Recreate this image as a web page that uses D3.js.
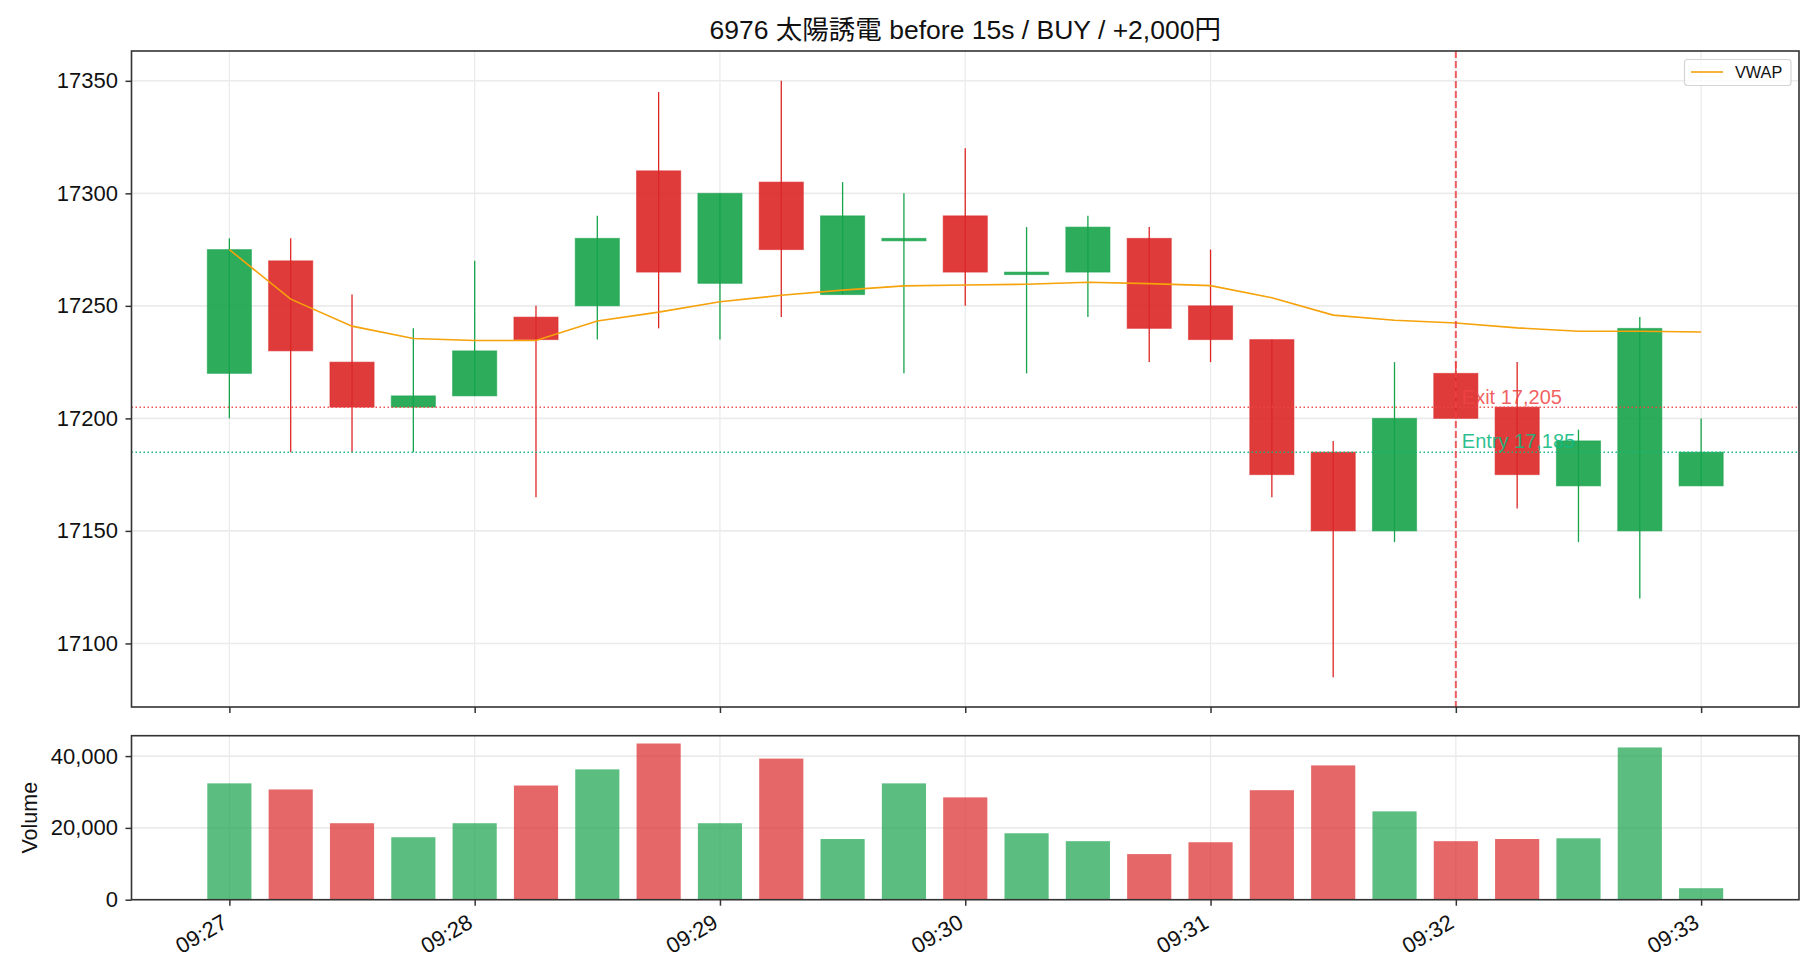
<!DOCTYPE html>
<html>
<head>
<meta charset="utf-8">
<script src="https://cdn.jsdelivr.net/npm/d3@7"></script>
<style>
  body { margin: 0; background: #fff; }
  svg text { font-family: 'Liberation Sans', 'Noto Sans CJK JP', sans-serif; fill: #111; }
</style>
</head>
<body>
<svg id="chart" width="1820" height="980"></svg>
<script>
// 15s candles, 6976 太陽誘電
const times = ['09:27:00','09:27:15','09:27:30','09:27:45','09:28:00','09:28:15','09:28:30','09:28:45',
  '09:29:00','09:29:15','09:29:30','09:29:45','09:30:00','09:30:15','09:30:30','09:30:45',
  '09:31:00','09:31:15','09:31:30','09:31:45','09:32:00','09:32:15','09:32:30','09:32:45','09:33:00'];
const opens  = [17220,17270,17225,17205,17210,17245,17250,17310,17260,17305,17255,17280,17290,17265,17265,17280,17250,17235,17185,17150,17220,17205,17170,17150,17170];
const highs  = [17280,17280,17255,17240,17270,17250,17290,17345,17300,17350,17305,17300,17320,17285,17290,17285,17275,17235,17190,17225,17225,17225,17195,17245,17200];
const lows   = [17200,17185,17185,17185,17210,17165,17235,17240,17235,17245,17255,17220,17250,17220,17245,17225,17225,17165,17085,17145,17200,17160,17145,17120,17170];
const closes = [17275,17230,17205,17210,17230,17235,17280,17265,17300,17275,17290,17280,17265,17265,17285,17240,17235,17175,17150,17200,17200,17175,17190,17240,17185];
const volumes = [32400,30700,21300,17400,21300,31800,36300,43500,21300,39300,16900,32400,28500,18500,16300,12700,16000,30500,37400,24600,16300,16900,17100,42400,3200];
const vwap = [17275,17253,17241,17235.5,17234.6,17234.6,17243.3,17247.2,17251.8,17254.7,17257,17258.9,17259.3,17259.6,17260.5,17259.9,17259,17253.6,17245.9,17243.6,17242.4,17240.2,17238.7,17238.7,17238.4];

const priceTicks = [17100,17150,17200,17250,17300,17350];
const volumeTicks = [0,20000,40000];
const timeTicks = ['09:27:00','09:28:00','09:29:00','09:30:00','09:31:00','09:32:00','09:33:00'];

const entryPrice = 17185;
const exitPrice = 17205;
const exitTime = '09:32:00';
const titleText = '6976 太陽誘電 before 15s / BUY / +2,000円';

const green = '#16a34a';
const red = '#dc2626';

const parseTime = d3.timeParse('%H:%M:%S');
const fmtTime = d3.timeFormat('%H:%M');
const dates = times.map(parseTime);

const svg = d3.select('#chart');

const main = {left: 131.5, right: 1799, top: 51, bottom: 707};
const vol = {top: 735.7, bottom: 899.7};

// x domain: bar width + 5% margin like matplotlib
const barSec = 10.8;
const t0 = dates[0].getTime() - barSec/2*1000;
const t1 = dates[dates.length-1].getTime() + barSec/2*1000;
const xPad = (t1 - t0)*0.05;
const x = d3.scaleTime()
  .domain([new Date(t0 - xPad), new Date(t1 + xPad)])
  .range([main.left, main.right]);
const barW = x(new Date(dates[0].getTime() + barSec*1000)) - x(dates[0]);

const pMin = d3.min(lows), pMax = d3.max(highs);
const pPad = (pMax - pMin)*0.05;
const y = d3.scaleLinear()
  .domain([pMin - pPad, pMax + pPad])
  .range([main.bottom, main.top]);

const yVol = d3.scaleLinear()
  .domain([0, d3.max(volumes)*1.05])
  .range([vol.bottom, vol.top]);

const gridColor = '#ebebeb';
const spineColor = '#333';

function drawGrid(g, yScale, ticks, top, bottom){
  g.selectAll('.gx').data(timeTicks.map(parseTime)).enter().append('line')
    .attr('x1', d => x(d)).attr('x2', d => x(d))
    .attr('y1', top).attr('y2', bottom)
    .attr('stroke', gridColor).attr('stroke-width', 1.3);
  g.selectAll('.gy').data(ticks).enter().append('line')
    .attr('x1', main.left).attr('x2', main.right)
    .attr('y1', d => yScale(d)).attr('y2', d => yScale(d))
    .attr('stroke', gridColor).attr('stroke-width', 1.6);
}

// ---- price panel
const gMain = svg.append('g');
drawGrid(gMain, y, priceTicks, main.top, main.bottom);

gMain.selectAll('.body').data(dates).enter().append('rect')
  .attr('x', d => x(d) - barW/2)
  .attr('y', (d,i) => y(Math.max(opens[i], closes[i])))
  .attr('width', barW)
  .attr('height', (d,i) => Math.max(2.5, y(Math.min(opens[i], closes[i])) - y(Math.max(opens[i], closes[i]))))
  .attr('fill', (d,i) => closes[i] >= opens[i] ? green : red)
  .attr('fill-opacity', 0.9)
  .attr('stroke', (d,i) => closes[i] >= opens[i] ? green : red)
  .attr('stroke-opacity', 0.55)
  .attr('stroke-width', 1);

gMain.selectAll('.wick').data(dates).enter().append('line')
  .attr('x1', d => x(d)).attr('x2', d => x(d))
  .attr('y1', (d,i) => y(highs[i])).attr('y2', (d,i) => y(lows[i]))
  .attr('stroke', (d,i) => closes[i] >= opens[i] ? green : red)
  .attr('stroke-width', 1.3);

const vwapLine = d3.line().x(d => x(d)).y((d,i) => y(vwap[i]));
gMain.append('path')
  .attr('d', vwapLine(dates))
  .attr('fill', 'none')
  .attr('stroke', '#f5a20b')
  .attr('stroke-width', 1.6);

// entry / exit
gMain.append('line')
  .attr('x1', main.left).attr('x2', main.right)
  .attr('y1', y(exitPrice)).attr('y2', y(exitPrice))
  .attr('stroke', '#ef4444').attr('stroke-opacity', 0.9)
  .attr('stroke-width', 1.5).attr('stroke-dasharray', '1.5,2.5');
gMain.append('line')
  .attr('x1', main.left).attr('x2', main.right)
  .attr('y1', y(entryPrice)).attr('y2', y(entryPrice))
  .attr('stroke', '#10b981').attr('stroke-opacity', 0.95)
  .attr('stroke-width', 1.5).attr('stroke-dasharray', '1.5,2.5');
gMain.append('line')
  .attr('x1', x(parseTime(exitTime))).attr('x2', x(parseTime(exitTime)))
  .attr('y1', main.top).attr('y2', main.bottom)
  .attr('stroke', '#ef4444').attr('stroke-opacity', 0.85)
  .attr('stroke-width', 2).attr('stroke-dasharray', '7,3');

gMain.append('text')
  .attr('x', x(parseTime(exitTime)) + 6).attr('y', y(exitPrice) - 3)
  .style('fill', '#ef4444').style('fill-opacity', 0.85)
  .style('font-size', '20px')
  .text('Exit ' + d3.format(',')(exitPrice));
gMain.append('text')
  .attr('x', x(parseTime(exitTime)) + 6).attr('y', y(entryPrice) - 4)
  .style('fill', '#10b981').style('fill-opacity', 0.9)
  .style('font-size', '20px')
  .text('Entry ' + d3.format(',')(entryPrice));

// legend
const leg = gMain.append('g');
leg.append('rect')
  .attr('x', 1684.5).attr('y', 59.5).attr('width', 106.5).attr('height', 26)
  .attr('rx', 3).attr('fill', '#fff').attr('fill-opacity', 0.8)
  .attr('stroke', '#d5d5d5').attr('stroke-width', 1.2);
leg.append('line')
  .attr('x1', 1691).attr('x2', 1723).attr('y1', 72).attr('y2', 72)
  .attr('stroke', '#f5a20b').attr('stroke-width', 1.6);
leg.append('text')
  .attr('x', 1735).attr('y', 78)
  .style('font-size', '16.3px')
  .text('VWAP');

// axes of price panel
const yAxis = d3.axisLeft(y).tickValues(priceTicks).tickFormat(d3.format('d')).tickSize(6).tickPadding(7.5);
const gy = svg.append('g').attr('transform', `translate(${main.left},0)`).call(yAxis);
const xAxisTop = d3.axisBottom(x).tickValues(timeTicks.map(parseTime)).tickFormat('').tickSize(6);
const gxTop = svg.append('g').attr('transform', `translate(0,${main.bottom})`).call(xAxisTop);

svg.append('rect')
  .attr('x', main.left).attr('y', main.top)
  .attr('width', main.right - main.left).attr('height', main.bottom - main.top)
  .attr('fill', 'none').attr('stroke', spineColor).attr('stroke-width', 1.6);

// ---- volume panel
const gVol = svg.append('g');
drawGrid(gVol, yVol, volumeTicks, vol.top, vol.bottom);

gVol.selectAll('.vbar').data(dates).enter().append('rect')
  .attr('x', d => x(d) - barW/2)
  .attr('y', (d,i) => yVol(volumes[i]))
  .attr('width', barW)
  .attr('height', (d,i) => yVol(0) - yVol(volumes[i]))
  .attr('fill', (d,i) => closes[i] >= opens[i] ? green : red)
  .attr('fill-opacity', 0.7);

const yVolAxis = d3.axisLeft(yVol).tickValues(volumeTicks).tickFormat(d3.format(',')).tickSize(6).tickPadding(7.5);
const gyv = svg.append('g').attr('transform', `translate(${main.left},0)`).call(yVolAxis);
const xAxis = d3.axisBottom(x).tickValues(timeTicks.map(parseTime)).tickFormat(fmtTime).tickSize(6).tickPadding(4);
const gx = svg.append('g').attr('transform', `translate(0,${vol.bottom})`).call(xAxis);
gx.selectAll('text')
  .attr('text-anchor', 'end')
  .attr('dy', null)
  .attr('y', 0)
  .attr('transform', 'translate(-1,27) rotate(-30)');

svg.append('rect')
  .attr('x', main.left).attr('y', vol.top)
  .attr('width', main.right - main.left).attr('height', vol.bottom - vol.top)
  .attr('fill', 'none').attr('stroke', spineColor).attr('stroke-width', 1.6);

svg.append('text')
  .attr('transform', `translate(29,${(vol.top + vol.bottom)/2}) rotate(-90)`)
  .attr('text-anchor', 'middle').attr('dy', '0.35em')
  .style('font-size', '21.5px')
  .text('Volume');

// styling shared by all axes
[gy, gxTop, gyv, gx].forEach(g => {
  g.select('.domain').remove();
  g.selectAll('.tick line').attr('stroke', spineColor).attr('stroke-width', 1.5);
  g.selectAll('.tick text').style('font-size', '22px').style('fill', '#111')
    .style('font-family', "'Liberation Sans', 'Noto Sans CJK JP', sans-serif");
});

svg.append('text')
  .attr('x', (main.left + main.right)/2).attr('y', 39)
  .attr('text-anchor', 'middle')
  .style('font-size', '26.5px')
  .text(titleText);
</script>
</body>
</html>
